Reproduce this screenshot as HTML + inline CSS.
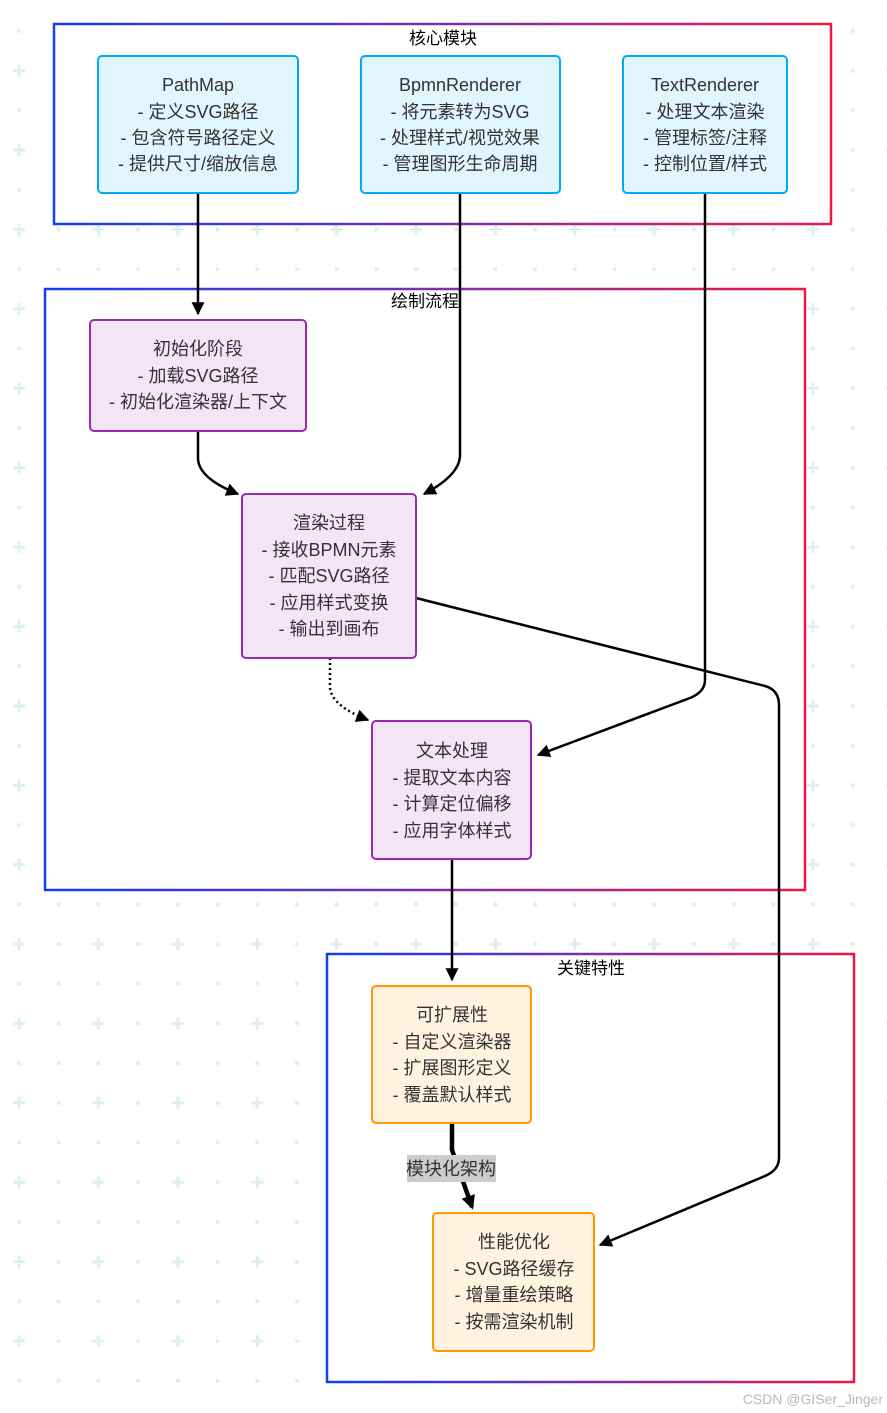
<!DOCTYPE html>
<html><head><meta charset="utf-8"><style>
html,body{margin:0;padding:0;background:#fff;}
svg{display:block;}
text{font-family:"Liberation Sans","Noto Sans CJK SC",sans-serif;fill:#333;}
</style></head><body>
<svg width="887" height="1413" viewBox="0 0 887 1413" xmlns="http://www.w3.org/2000/svg">
<defs>
<pattern id="bg" patternUnits="userSpaceOnUse" x="-0.85" y="11.15" width="79.4" height="79.4">
<circle cx="19.85" cy="19.85" r="2.2" fill="#dcf0f3"/>
<circle cx="59.55" cy="19.85" r="2.2" fill="#dcf0f3"/>
<circle cx="59.55" cy="59.55" r="2.2" fill="#dcf0f3"/>
<rect x="13.85" y="58.05" width="12" height="3" fill="#dcf0f3"/>
<rect x="18.35" y="53.55" width="3" height="12" fill="#dcf0f3"/>
</pattern>
<linearGradient id="g1" x1="0" y1="0" x2="1" y2="0"><stop offset="0" stop-color="#1440f0"/><stop offset="0.5" stop-color="#7a2fb0"/><stop offset="1" stop-color="#ee1745"/></linearGradient>
<marker id="ah" markerWidth="15" markerHeight="13" refX="9" refY="5" orient="auto" markerUnits="userSpaceOnUse" viewBox="0 0 10 10"><path d="M0,0 L10,5 L0,10 z" fill="#000"/></marker>
<marker id="ah2" markerWidth="16" markerHeight="14" refX="8" refY="5" orient="auto" markerUnits="userSpaceOnUse" viewBox="0 0 10 10"><path d="M0,0 L10,5 L0,10 z" fill="#000"/></marker>
</defs>
<rect width="887" height="1413" fill="url(#bg)"/>

<rect x="54" y="24" width="777" height="200" fill="#fff" stroke="url(#g1)" stroke-width="2.5"/>
<text x="443" y="44" font-size="17" text-anchor="middle" style="fill:#000">核心模块</text>
<rect x="45" y="289" width="760" height="601" fill="#fff" stroke="url(#g1)" stroke-width="2.5"/>
<text x="425" y="307" font-size="17" text-anchor="middle" style="fill:#000">绘制流程</text>
<rect x="327" y="954" width="527" height="428" fill="#fff" stroke="url(#g1)" stroke-width="2.5"/>
<text x="591" y="974" font-size="17" text-anchor="middle" style="fill:#000">关键特性</text>

<g fill="none" stroke="#000" stroke-width="2.5">
<path d="M198,193 L198,314" marker-end="url(#ah)"/>
<path d="M460,193 L460,455 Q460,475 424,494" marker-end="url(#ah)"/>
<path d="M198,431 L198,458 Q198,478 238,494" marker-end="url(#ah)"/>
<path d="M705,193 L705,680 Q705,692 690,698 L538,755" marker-end="url(#ah)"/>
<path d="M416,598 L765,686 Q779,690 779,705 L779,1158 Q779,1170 765,1176 L600,1245" marker-end="url(#ah)"/>
<path d="M330,658 L330,688 Q332,706 368,720" stroke-dasharray="2,3" marker-end="url(#ah)"/>
<path d="M452,859 L452,980" marker-end="url(#ah)"/>
<path d="M452,1123 L452,1150 L472,1207" stroke-width="4.5" marker-end="url(#ah2)"/>
</g>
<rect x="407" y="1155" width="89" height="27" fill="#cccccc"/>
<text x="451" y="1175" font-size="18" text-anchor="middle">模块化架构</text>

<g stroke-width="2">
<rect x="98" y="56" width="200" height="137" rx="4" fill="#e1f5fe" stroke="#03a9f4"/>
<rect x="361" y="56" width="199" height="137" rx="4" fill="#e1f5fe" stroke="#03a9f4"/>
<rect x="623" y="56" width="164" height="137" rx="4" fill="#e1f5fe" stroke="#03a9f4"/>
<rect x="90" y="320" width="216" height="111" rx="4" fill="#f3e5f5" stroke="#9c27b0"/>
<rect x="242" y="494" width="174" height="164" rx="4" fill="#f3e5f5" stroke="#9c27b0"/>
<rect x="372" y="721" width="159" height="138" rx="4" fill="#f3e5f5" stroke="#9c27b0"/>
<rect x="372" y="986" width="159" height="137" rx="4" fill="#fff3e0" stroke="#ff9800"/>
<rect x="433" y="1213" width="161" height="138" rx="4" fill="#fff3e0" stroke="#ff9800"/>
</g>
<g font-size="18" text-anchor="middle">
<text x="198" y="91">PathMap</text><text x="198" y="118">- 定义SVG路径</text><text x="198" y="144">- 包含符号路径定义</text><text x="198" y="170">- 提供尺寸/缩放信息</text>
<text x="460" y="91">BpmnRenderer</text><text x="460" y="118">- 将元素转为SVG</text><text x="460" y="144">- 处理样式/视觉效果</text><text x="460" y="170">- 管理图形生命周期</text>
<text x="705" y="91">TextRenderer</text><text x="705" y="118">- 处理文本渲染</text><text x="705" y="144">- 管理标签/注释</text><text x="705" y="170">- 控制位置/样式</text>
<text x="198" y="355">初始化阶段</text><text x="198" y="382">- 加载SVG路径</text><text x="198" y="408">- 初始化渲染器/上下文</text>
<text x="329" y="529">渲染过程</text><text x="329" y="556">- 接收BPMN元素</text><text x="329" y="582">- 匹配SVG路径</text><text x="329" y="609">- 应用样式变换</text><text x="329" y="635">- 输出到画布</text>
<text x="452" y="757">文本处理</text><text x="452" y="784">- 提取文本内容</text><text x="452" y="810">- 计算定位偏移</text><text x="452" y="837">- 应用字体样式</text>
<text x="452" y="1021">可扩展性</text><text x="452" y="1048">- 自定义渲染器</text><text x="452" y="1074">- 扩展图形定义</text><text x="452" y="1101">- 覆盖默认样式</text>
<text x="514" y="1248">性能优化</text><text x="514" y="1275">- SVG路径缓存</text><text x="514" y="1301">- 增量重绘策略</text><text x="514" y="1328">- 按需渲染机制</text>
</g>
<text x="883" y="1404" font-size="14" text-anchor="end" style="fill:#b8b8b8">CSDN @GISer_Jinger</text>
</svg>
</body></html>
